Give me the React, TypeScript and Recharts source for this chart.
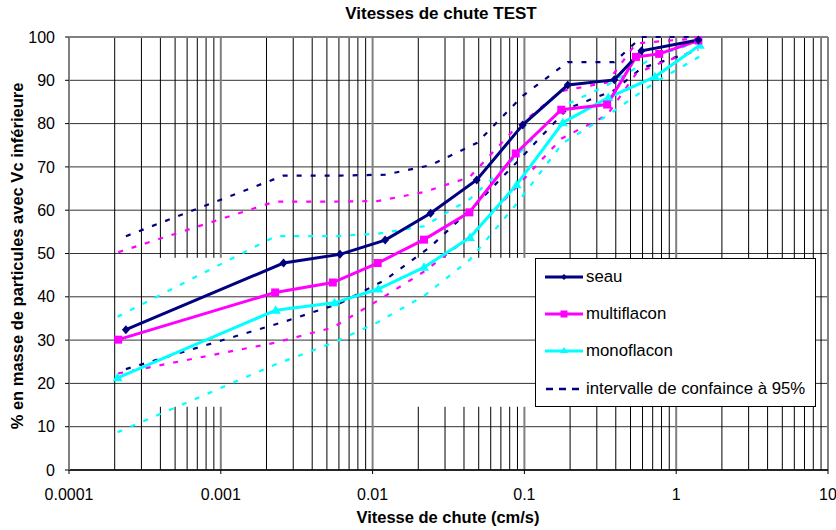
import { CartesianGrid, Line, LineChart, ReferenceLine, XAxis, YAxis } from 'recharts'

// Vitesses de chute : courbes cumulées (% massique sous Vc) + intervalles de confiance à 95 %

const seauX = [0.000237, 0.00259, 0.0061, 0.0121, 0.0241, 0.0485, 0.0975, 0.193, 0.391, 0.591, 1.4]
const seauY = [32.4, 47.8, 49.8, 53.1, 59.3, 67.0, 79.7, 88.9, 90.1, 96.8, 99.3]
const seauHaut = [54.0, 68.0, 68.0, 68.2, 70.4, 75.5, 86.4, 94.2, 94.2, 100, 100]
const seauBas = [23.3, 34.2, 38.5, 43.9, 51.6, 61.5, 72.5, 83.5, 87.7, 92.8, 97.0]

const multiX = [0.000211, 0.00228, 0.00547, 0.0108, 0.0218, 0.0434, 0.0877, 0.175, 0.351, 0.543, 0.773, 1.4]
const multiY = [30.1, 41.0, 43.3, 47.8, 53.2, 59.5, 73.1, 83.2, 84.4, 95.4, 96.1, 99.2]
const multiHaut = [50.3, 62.0, 62.0, 62.1, 64.2, 67.6, 79.0, 87.5, 89.5, 98.5, 99.0, 99.7]
const multiBas = [22.3, 29.4, 32.9, 39.1, 45.8, 53.8, 65.2, 76.5, 82.0, 91.5, 93.9, 97.0]

const monoX = [0.000209, 0.0023, 0.00561, 0.0109, 0.0218, 0.0438, 0.0889, 0.179, 0.357, 0.724, 1.43]
const monoY = [21.3, 36.9, 38.6, 41.8, 46.8, 53.7, 65.9, 80.2, 86.0, 90.8, 98.1]
const monoHaut = [35.4, 54.0, 54.0, 54.6, 56.3, 62.6, 72.5, 84.0, 89.0, 95.5, 99.0]
const monoBas = [8.7, 24.4, 29.5, 34.2, 40.2, 48.6, 61.5, 75.5, 82.0, 89.5, 95.5]

const xTicks = [0.0001, 0.001, 0.01, 0.1, 1, 10]
const yTicks = [0, 10, 20, 30, 40, 50, 60, 70, 80, 90, 100]

// lignes de grille log : certaines sont interrompues derrière la zone de la légende
const mineursPleins = [0.0002, 0.0003, 0.002, 0.003, 0.004, 0.005, 0.006, 0.007, 0.008, 0.009,
  0.2, 0.3, 0.4, 0.5, 0.6, 0.7, 0.8, 0.9, 2, 3, 4, 5, 6, 7, 8, 9]
const mineursCoupes = [0.0004, 0.0005, 0.0006, 0.0007, 0.0008, 0.0009,
  0.02, 0.03, 0.04, 0.05, 0.06, 0.07, 0.08, 0.09]
const decadesPleines = [0.01, 1]
const decadesCoupees = [0.001, 0.1]
const coupure = [14.6, 49]

const NAVY = '#000080'
const MAGENTA = '#FF00FF'
const CYAN = '#00FFFF'
const FONT = '"Liberation Sans", Arial, sans-serif'

const pts = (xs: number[], ys: number[]) => xs.map((x, i) => ({ x, y: ys[i] }))

const Losange = (p: any) => {
  const { cx, cy } = p
  if (cx == null || cy == null) return null
  return <path key={p.key} d={`M${cx},${cy - 4.5}L${cx + 4},${cy}L${cx},${cy + 4.5}L${cx - 4},${cy}Z`} fill={NAVY} />
}
const Carre = (p: any) => {
  const { cx, cy } = p
  if (cx == null || cy == null) return null
  return <rect key={p.key} x={cx - 4} y={cy - 4} width={8} height={8} fill={MAGENTA} />
}
const Triangle = (p: any) => {
  const { cx, cy } = p
  if (cx == null || cy == null) return null
  return <path key={p.key} d={`M${cx},${cy - 5}L${cx + 5},${cy + 3.5}L${cx - 5},${cy + 3.5}Z`} fill={CYAN} />
}

const fmt = (v: number) => (v >= 1 ? String(v) : v.toFixed(Math.round(-Math.log10(v))))

const legende = [
  { nom: 'seau', color: NAVY, marque: 'losange' },
  { nom: 'multiflacon', color: MAGENTA, marque: 'carre' },
  { nom: 'monoflacon', color: CYAN, marque: 'triangle' },
  { nom: 'intervalle de confaince à 95%', color: NAVY, marque: 'tirets' },
]

function Legende() {
  return (
    <div
      style={{
        position: 'absolute',
        left: 535,
        top: 258,
        width: 281,
        height: 149,
        boxSizing: 'border-box',
        border: '1px solid #000',
        background: '#fff',
        fontFamily: FONT,
        fontSize: 16.8,
        color: '#000',
      }}
    >
      {legende.map((e, i) => (
        <div key={e.nom} style={{ position: 'absolute', left: 9, top: 7 + i * 37.2, height: 22, display: 'flex', alignItems: 'center' }}>
          <svg width={40} height={12} style={{ marginRight: 1 }}>
            {e.marque === 'tirets' ? (
              <line x1={1} y1={6} x2={39} y2={6} stroke={e.color} strokeWidth={2.5} strokeDasharray="7 6" />
            ) : (
              <line x1={0} y1={6} x2={38} y2={6} stroke={e.color} strokeWidth={3} />
            )}
            {e.marque === 'losange' && <path d="M19,3L22,6L19,9L16,6Z" fill={e.color} />}
            {e.marque === 'carre' && <rect x={15.5} y={2.5} width={7} height={7} fill={e.color} />}
            {e.marque === 'triangle' && <path d="M19,2L23,8L15,8Z" fill={e.color} />}
          </svg>
          <span>{e.nom}</span>
        </div>
      ))}
    </div>
  )
}

export default function App() {
  const tick = { fontSize: 16, fill: '#000', fontFamily: FONT }
  return (
    <div style={{ position: 'relative', width: 836, height: 530, background: '#fff', fontFamily: FONT }}>
      <style>{'body{margin:0}'}</style>
      <div style={{ position: 'absolute', left: 0, width: 882, top: 4, textAlign: 'center', fontWeight: 'bold', fontSize: 17 }}>
        Vitesses de chute TEST
      </div>
      <LineChart width={836} height={530} margin={{ top: 37, right: 8, bottom: 30, left: 8 }}>
        <CartesianGrid vertical={false} stroke="#333" strokeWidth={1} />
        {mineursPleins.map((v) => (
          <ReferenceLine key={'mp' + v} x={v} stroke="#000" strokeWidth={1} />
        ))}
        {mineursCoupes.map((v) => [
          <ReferenceLine key={'mc1' + v} segment={[{ x: v, y: 100 }, { x: v, y: coupure[1] }]} stroke="#000" strokeWidth={1} />,
          <ReferenceLine key={'mc2' + v} segment={[{ x: v, y: coupure[0] }, { x: v, y: 0 }]} stroke="#000" strokeWidth={1} />,
        ])}
        {decadesPleines.map((v) => (
          <ReferenceLine key={'dp' + v} x={v} stroke="#808080" strokeWidth={2} />
        ))}
        {decadesCoupees.map((v) => [
          <ReferenceLine key={'dc1' + v} segment={[{ x: v, y: 100 }, { x: v, y: coupure[1] }]} stroke="#808080" strokeWidth={2} />,
          <ReferenceLine key={'dc2' + v} segment={[{ x: v, y: coupure[0] }, { x: v, y: 0 }]} stroke="#808080" strokeWidth={2} />,
        ])}
        <ReferenceLine y={100} stroke="#808080" strokeWidth={2} />
        <ReferenceLine x={10} stroke="#808080" strokeWidth={2} />
        <XAxis
          dataKey="x"
          type="number"
          scale="log"
          domain={[0.0001, 10]}
          ticks={xTicks}
          interval={0}
          allowDataOverflow
          height={30}
          tickSize={4}
          tickMargin={15}
          tick={tick}
          tickFormatter={fmt}
          axisLine={{ stroke: '#000', strokeWidth: 1.5 }}
          tickLine={{ stroke: '#000' }}
        />
        <YAxis
          type="number"
          domain={[0, 100]}
          ticks={yTicks}
          interval={0}
          width={61}
          tickSize={4}
          tickMargin={10}
          tick={tick}
          axisLine={{ stroke: '#808080', strokeWidth: 2 }}
          tickLine={{ stroke: '#000' }}
        />
        <Line data={pts(seauX, seauHaut)} dataKey="y" stroke={NAVY} strokeWidth={2.2} strokeDasharray="5 9" dot={false} isAnimationActive={false} />
        <Line data={pts(seauX, seauBas)} dataKey="y" stroke={NAVY} strokeWidth={2.2} strokeDasharray="5 9" dot={false} isAnimationActive={false} />
        <Line data={pts(multiX, multiHaut)} dataKey="y" stroke={MAGENTA} strokeWidth={2.2} strokeDasharray="5 9" dot={false} isAnimationActive={false} />
        <Line data={pts(multiX, multiBas)} dataKey="y" stroke={MAGENTA} strokeWidth={2.2} strokeDasharray="5 9" dot={false} isAnimationActive={false} />
        <Line data={pts(monoX, monoHaut)} dataKey="y" stroke={CYAN} strokeWidth={2.2} strokeDasharray="5 9" dot={false} isAnimationActive={false} />
        <Line data={pts(monoX, monoBas)} dataKey="y" stroke={CYAN} strokeWidth={2.2} strokeDasharray="5 9" dot={false} isAnimationActive={false} />
        <Line data={pts(monoX, monoY)} dataKey="y" stroke={CYAN} strokeWidth={3} dot={Triangle} isAnimationActive={false} />
        <Line data={pts(multiX, multiY)} dataKey="y" stroke={MAGENTA} strokeWidth={3} dot={Carre} isAnimationActive={false} />
        <Line data={pts(seauX, seauY)} dataKey="y" stroke={NAVY} strokeWidth={3} dot={Losange} isAnimationActive={false} />
      </LineChart>
      <div
        style={{
          position: 'absolute',
          left: 17,
          top: 256,
          transform: 'translate(-50%, -50%) rotate(-90deg)',
          whiteSpace: 'nowrap',
          fontWeight: 'bold',
          fontSize: 16.5,
        }}
      >
        % en masse de particules avec Vc inférieure
      </div>
      <div style={{ position: 'absolute', left: 0, width: 896, top: 508, textAlign: 'center', fontWeight: 'bold', fontSize: 16.5 }}>
        Vitesse de chute (cm/s)
      </div>
      <Legende />
    </div>
  )
}
